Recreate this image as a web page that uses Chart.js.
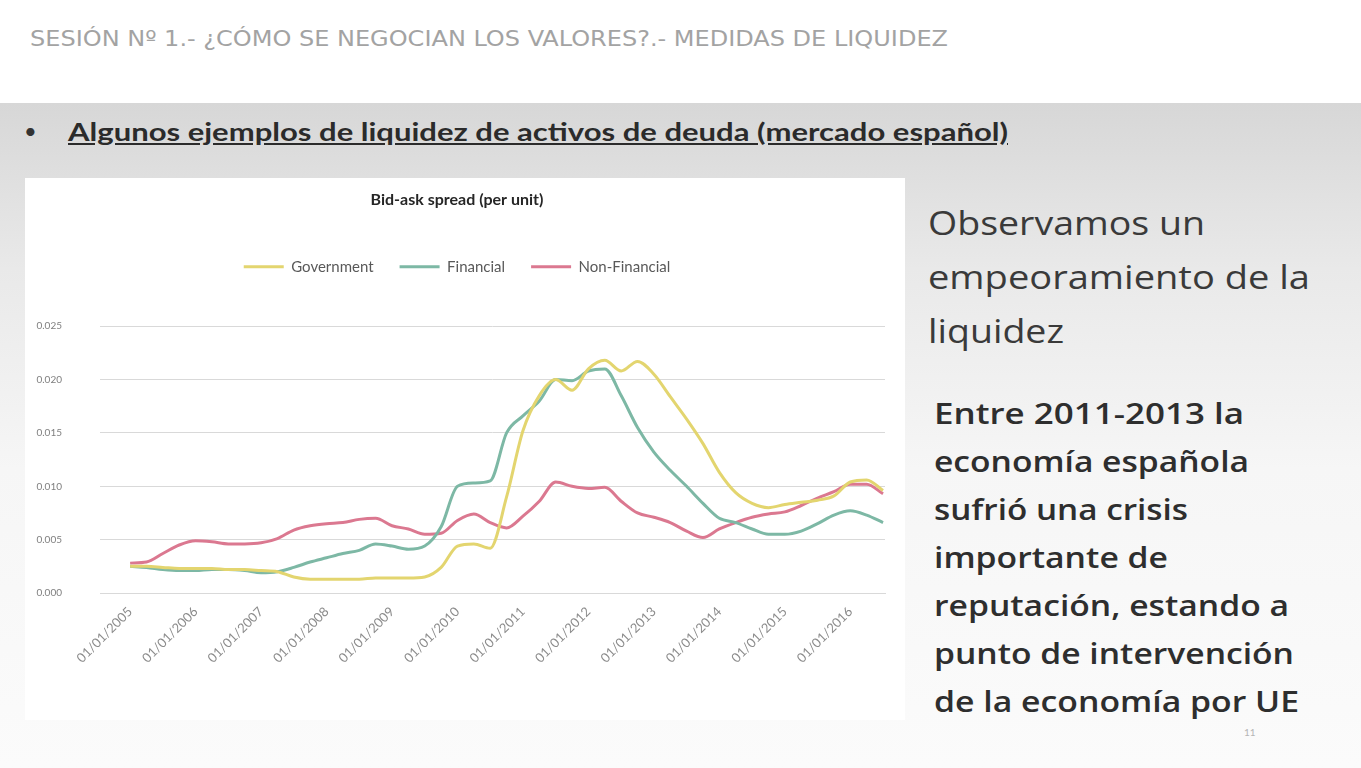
<!DOCTYPE html>
<html>
<head>
<meta charset="utf-8">
<script src="https://cdn.jsdelivr.net/npm/chart.js@4.4.1/dist/chart.umd.min.js"></script>
<style>
  html, body { margin: 0; padding: 0; }
  body { width: 1361px; height: 768px; position: relative; overflow: hidden; background: #fff; font-family: Lato, "Open Sans", sans-serif; }
  #band { position: absolute; left: 0; top: 103px; width: 1361px; height: 665px;
          background: linear-gradient(to bottom, #d7d7d7 0%, #e9e9e9 25%, #f6f6f6 55%, #fbfbfb 100%); }
  .fit { white-space: nowrap; transform-origin: left center; }
  #header { position: absolute; left: 30px; top: 27px; font-family: "Liberation Sans Narrow", "DejaVu Sans Condensed", sans-serif; font-size: 21px; color: #a3a3a3; }
  #bullet { position: absolute; left: 24px; top: 117px; font-size: 22px; color: #333; }
  #heading { position: absolute; left: 68px; top: 116px; font-size: 25px; font-weight: bold; color: #2b2b2b; text-decoration: underline; }
  #box { position: absolute; left: 25px; top: 178px; width: 880px; height: 542px; background: #fff; }
  #obs { position: absolute; left: 928px; top: 196px; font-family: "Open Sans", sans-serif; font-size: 33px; line-height: 54px; color: #3a3a3a; }
  #entre { position: absolute; left: 934px; top: 389px; font-family: "Open Sans", sans-serif; font-size: 29px; line-height: 48px; color: #2e2e2e; font-weight: 600; }
  #obs div, #entre div { width: max-content; }
  #num { position: absolute; left: 1244px; top: 726px; font-size: 10px; color: #b5b5b5; }
</style>
</head>
<body>
<div id="band"></div>
<div id="header" class="fit" data-w="918">SESIÓN Nº 1.- ¿CÓMO SE NEGOCIAN LOS VALORES?.- MEDIDAS DE LIQUIDEZ</div>
<div id="bullet">•</div>
<div id="heading" class="fit" data-w="940">Algunos ejemplos de liquidez de activos de deuda (mercado español)</div>
<div id="box"><canvas id="spreadChart"></canvas></div>
<div id="obs">
  <div class="fit" data-w="277">Observamos un</div>
  <div class="fit" data-w="382">empeoramiento de la</div>
  <div class="fit" data-w="136">liquidez</div>
</div>
<div id="entre">
  <div class="fit" data-w="310">Entre 2011-2013 la</div>
  <div class="fit" data-w="315">economía española</div>
  <div class="fit" data-w="254">sufrió una crisis</div>
  <div class="fit" data-w="234">importante de</div>
  <div class="fit" data-w="355">reputación, estando a</div>
  <div class="fit" data-w="360">punto de intervención</div>
  <div class="fit" data-w="365">de la economía por UE</div>
</div>
<div id="num">11</div>

<script>
// quarterly bid-ask spread, first point is Q1 2005
const startYear = 2005;
const pointsPerYear = 4;
const seriesNames = ['Government', 'Financial', 'Non-Financial'];
const gov = [0.0025, 0.0025, 0.0024, 0.0023, 0.0023, 0.0023, 0.0022, 0.0022, 0.0021, 0.0020,
             0.0015, 0.0013, 0.0013, 0.0013, 0.0013, 0.0014, 0.0014, 0.0014, 0.0015, 0.0024,
             0.0044, 0.0046, 0.0042, 0.0090, 0.0152, 0.0185, 0.0200, 0.0190, 0.0210, 0.0218,
             0.0208, 0.0217, 0.0205, 0.0184, 0.0163, 0.0140, 0.0113, 0.0094, 0.0084, 0.0080,
             0.0083, 0.0085, 0.0087, 0.0091, 0.0104, 0.0106, 0.0096];
const fin = [0.0025, 0.0024, 0.0022, 0.0021, 0.0021, 0.0022, 0.0022, 0.0021, 0.0019, 0.0020,
             0.0024, 0.0029, 0.0033, 0.0037, 0.0040, 0.0046, 0.0044, 0.0041, 0.0044, 0.0062,
             0.0100, 0.0103, 0.0105, 0.0150, 0.0166, 0.0180, 0.0200, 0.0199, 0.0208, 0.0210,
             0.0185, 0.0155, 0.0132, 0.0115, 0.0100, 0.0084, 0.0070, 0.0066, 0.0060, 0.0055,
             0.0055, 0.0058, 0.0065, 0.0073, 0.0077, 0.0073, 0.0066];
const nonFin = [0.0028, 0.0029, 0.0037, 0.0045, 0.0049, 0.0048, 0.0046, 0.0046, 0.0047, 0.0051,
                0.0059, 0.0063, 0.0065, 0.0066, 0.0069, 0.0070, 0.0063, 0.0060, 0.0055, 0.0056,
                0.0068, 0.0074, 0.0066, 0.0061, 0.0072, 0.0086, 0.0104, 0.0100, 0.0098, 0.0099,
                0.0086, 0.0075, 0.0071, 0.0066, 0.0058, 0.0052, 0.0060, 0.0066, 0.0071, 0.0074,
                0.0076, 0.0082, 0.0089, 0.0095, 0.0102, 0.0102, 0.0093];
const xTickYears = [2005, 2006, 2007, 2008, 2009, 2010, 2011, 2012, 2013, 2014, 2015, 2016];
const yTicks = [0, 0.005, 0.010, 0.015, 0.020, 0.025];
const colors = ['#e3d56f', '#7db8a5', '#db7890'];

// stretch the slide text lines to their widths
document.querySelectorAll('.fit').forEach(el => {
  const w = el.getBoundingClientRect().width;
  el.style.transform = 'scaleX(' + (el.dataset.w / w) + ')';
});

function toPoints(arr) {
  return arr.map((v, i) => ({ x: startYear + i / pointsPerYear, y: v }));
}

const legendGap = {
  id: 'legendGap',
  beforeInit(chart) {
    const fit = chart.legend.fit;
    chart.legend.fit = function () {
      fit.bind(chart.legend)();
      this.height += 42;
    };
  }
};

const allSeries = [gov, fin, nonFin];
const ctx = document.getElementById('spreadChart');
new Chart(ctx, {
  type: 'line',
  data: {
    datasets: allSeries.map((s, k) => ({
      label: seriesNames[k],
      data: toPoints(s),
      borderColor: colors[k],
      backgroundColor: colors[k],
      borderWidth: 3,
      pointRadius: 0,
      tension: 0.4,
      cubicInterpolationMode: 'monotone'
    }))
  },
  options: {
    responsive: true,
    maintainAspectRatio: false,
    animation: false,
    layout: { padding: { left: 4, right: 20, top: 6, bottom: 51 } },
    plugins: {
      title: {
        display: true,
        text: 'Bid-ask spread (per unit)',
        color: '#262626',
        font: { family: 'Lato', size: 16, weight: 'bold' },
        padding: { top: 6, bottom: 24 }
      },
      legend: {
        labels: {
          usePointStyle: true,
          pointStyle: 'line',
          pointStyleWidth: 40,
          color: '#595959',
          font: { family: 'Lato', size: 15 },
          padding: 26
        }
      },
      tooltip: { enabled: false }
    },
    scales: {
      x: {
        type: 'linear',
        min: 2004.54,
        max: 2016.53,
        grid: { display: false },
        border: { display: true, color: '#d9d9d9' },
        afterBuildTicks(scale) {
          scale.ticks = xTickYears.map(y => ({ value: y }));
        },
        ticks: {
          autoSkip: false,
          minRotation: 45,
          maxRotation: 45,
          color: '#8c8c8c',
          font: { family: 'Lato', size: 13 },
          callback: v => '01/01/' + v
        }
      },
      y: {
        min: 0,
        max: 0.025,
        afterBuildTicks(scale) {
          scale.ticks = yTicks.map(v => ({ value: v }));
        },
        afterFit(scale) { scale.width = 71; },
        grid: { color: '#d9d9d9', drawTicks: false },
        border: { display: false },
        ticks: {
          padding: 38,
          color: '#7f7f7f',
          font: { family: 'Lato', size: 10 },
          callback: v => v.toFixed(3)
        }
      }
    }
  },
  plugins: [legendGap]
});
</script>
</body>
</html>
